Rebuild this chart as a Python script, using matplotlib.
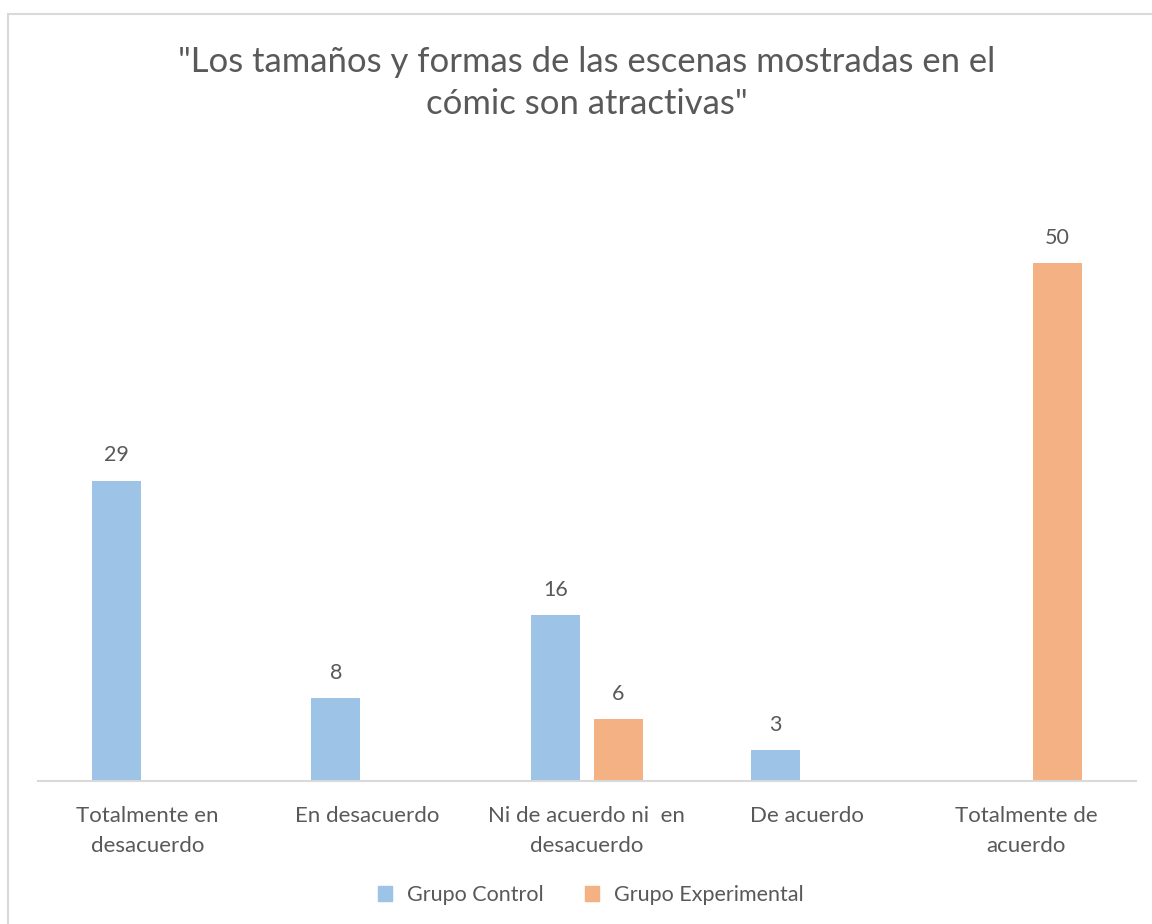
import matplotlib.pyplot as plt
import matplotlib.patches as mpatches
import numpy as np

categorias = [
    "Totalmente en\ndesacuerdo",
    "En desacuerdo",
    "Ni de acuerdo ni  en\ndesacuerdo",
    "De acuerdo",
    "Totalmente de\nacuerdo",
]
grupo_control = [29, 8, 16, 3, 0]
grupo_experimental = [0, 0, 6, 0, 50]
series = ["Grupo Control", "Grupo Experimental"]

azul = "#9DC3E6"
naranja = "#F4B183"
gris_texto = "#595959"
gris_linea = "#D9D9D9"

plt.rcParams["font.family"] = ["Lato", "DejaVu Sans"]

W, H = 1152, 924
fig = plt.figure(figsize=(W / 100, H / 100), dpi=100)

# marco del grafico (Excel)
marco = mpatches.Rectangle(
    (8 / W, -0.1), 1.2, 1 - 14 / H + 0.1,
    transform=fig.transFigure, fill=False, edgecolor=gris_linea, lw=1.5,
)
fig.patches.append(marco)

ax = fig.add_axes([37.6 / W, 1 - 781 / H, 1098.4 / W, (781 - 159.4) / H])

x = np.arange(len(categorias))
ancho = 0.223
offset = 0.143
b1 = ax.bar(x - offset, grupo_control, ancho, color=azul, label=series[0])
b2 = ax.bar(x + offset, grupo_experimental, ancho, color=naranja, label=series[1])

for bars, vals in [(b1, grupo_control), (b2, grupo_experimental)]:
    for rect, v in zip(bars, vals):
        if v > 0:
            ax.annotate(str(v), (rect.get_x() + rect.get_width() / 2, v),
                        xytext=(0, 11), textcoords="offset points",
                        ha="center", va="bottom", fontsize=15.5, color=gris_texto)

ax.set_xlim(-0.5, len(categorias) - 0.5)
ax.set_ylim(0, 60)
ax.set_yticks([])
ax.set_xticks(x)
ax.set_xticklabels(categorias, fontsize=16, color=gris_texto, linespacing=1.6)
ax.tick_params(axis="x", length=0, pad=18)
for s in ["top", "right", "left"]:
    ax.spines[s].set_visible(False)
ax.spines["bottom"].set_color(gris_linea)
ax.spines["bottom"].set_linewidth(1.5)

fig.text(587 / W, 1 - 83 / H,
         "\"Los tamaños y formas de las escenas mostradas en el\ncómic son atractivas\"",
         ha="center", va="center", fontsize=24.9, color=gris_texto, linespacing=1.42)

handles = [mpatches.Patch(color=azul), mpatches.Patch(color=naranja)]
fig.legend(handles, series, loc="center", bbox_to_anchor=(591 / W, 1 - 895 / H),
           ncol=2, frameon=False, fontsize=15.5, handlelength=0.65, handleheight=0.65,
           handletextpad=0.7, columnspacing=1.9, labelcolor=gris_texto)

fig.savefig("out.png", dpi=100)
